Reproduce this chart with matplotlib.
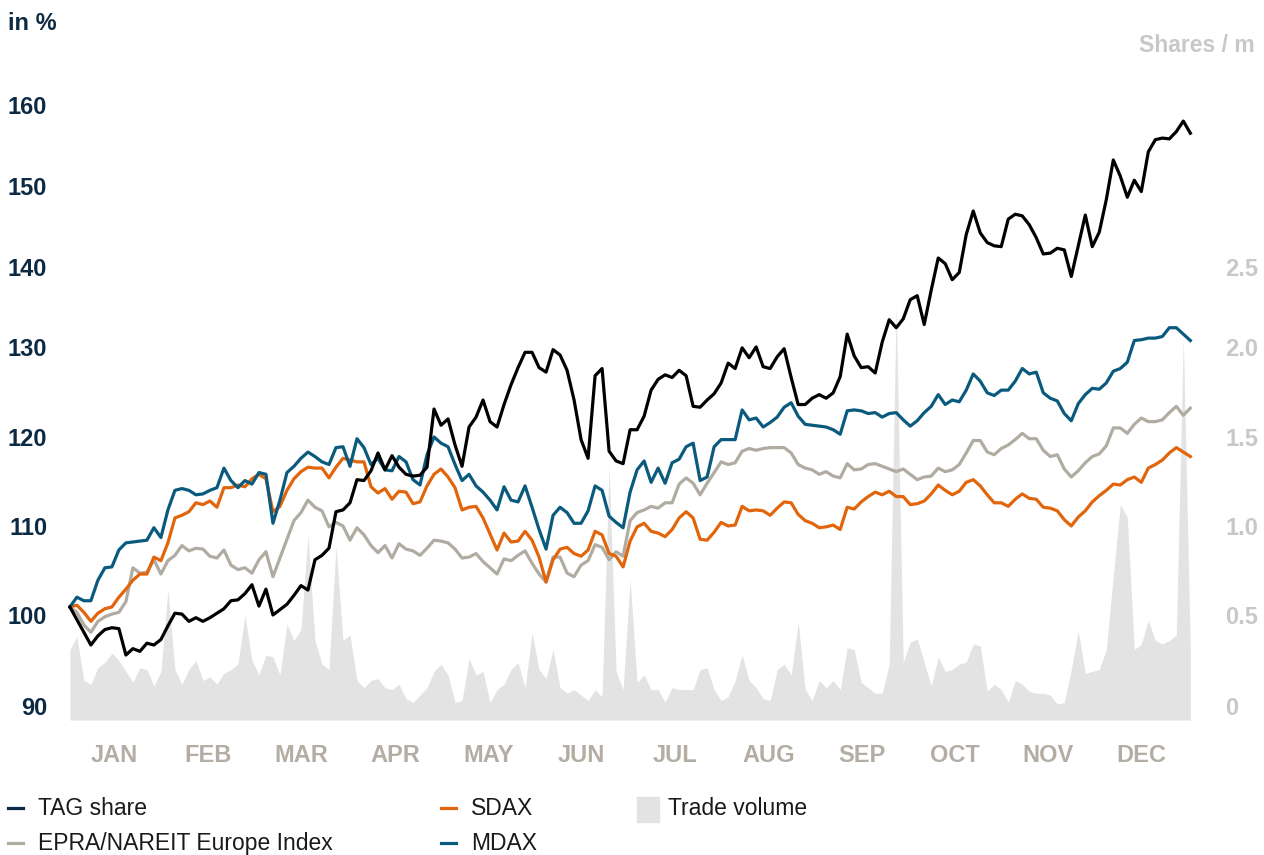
import numpy as np
import matplotlib
matplotlib.use("Agg")
import matplotlib.pyplot as plt
from matplotlib.lines import Line2D
from matplotlib.patches import Rectangle

plt.rcParams['font.family'] = ['Liberation Sans', 'DejaVu Sans']

# ---------------- data ----------------
months = ["JAN", "FEB", "MAR", "APR", "MAY", "JUN", "JUL", "AUG", "SEP", "OCT", "NOV", "DEC"]

tag_share = [
    100.9, 99.5, 98.1, 96.7, 97.7, 98.4, 98.6, 98.5, 95.6, 96.3,
    96.0, 96.9, 96.7, 97.3, 98.8, 100.2, 100.1, 99.3, 99.7, 99.3,
    99.7, 100.2, 100.7, 101.6, 101.7, 102.4, 103.4, 101.0, 102.9, 100.0,
    100.6, 101.2, 102.2, 103.3, 102.8, 106.2, 106.7, 107.5, 111.6, 111.8,
    112.6, 115.2, 115.1, 116.2, 118.2, 116.3, 117.9, 116.6, 115.8, 115.6,
    115.7, 116.6, 123.1, 121.3, 122.0, 119.1, 116.7, 121.1, 122.2, 124.1,
    121.7, 121.1, 123.6, 125.8, 127.7, 129.4, 129.4, 127.7, 127.2, 129.7,
    129.1, 127.4, 124.1, 119.7, 117.6, 126.8, 127.6, 118.4, 117.3, 117.0,
    120.8, 120.8, 122.3, 125.2, 126.4, 126.9, 126.6, 127.4, 126.8, 123.4,
    123.3, 124.1, 124.8, 126.0, 128.2, 127.6, 129.9, 128.8, 130.0, 127.8,
    127.6, 128.9, 129.8, 126.6, 123.6, 123.6, 124.3, 124.7, 124.3, 124.9,
    126.7, 131.6, 129.0, 127.7, 127.8, 127.1, 130.6, 133.4, 132.4, 133.5,
    135.9, 136.4, 132.8, 137.1, 141.1, 140.4, 138.4, 139.3, 144.0, 146.9,
    144.2, 143.0, 142.6, 142.5, 145.9, 146.5, 146.3, 145.2, 143.6, 141.6,
    141.7, 142.3, 142.1, 138.8, 142.6, 146.4, 142.5, 144.3, 148.3, 153.2,
    151.2, 148.6, 150.7, 149.3, 154.2, 155.7, 155.9, 155.8, 156.7, 158.0,
    156.5]

mdax = [
    100.9, 102.0, 101.6, 101.6, 103.9, 105.3, 105.4, 107.3, 108.1, 108.2,
    108.3, 108.4, 109.8, 108.7, 111.8, 114.0, 114.2, 114.0, 113.5, 113.6,
    114.0, 114.3, 116.5, 115.1, 114.3, 115.1, 114.7, 116.0, 115.8, 110.3,
    112.9, 116.0, 116.7, 117.6, 118.3, 117.8, 117.2, 116.9, 118.8, 118.9,
    116.7, 119.8, 118.8, 116.9, 117.6, 116.3, 116.2, 117.8, 117.2, 115.2,
    114.6, 118.0, 120.0, 119.3, 118.9, 116.9, 115.1, 115.8, 114.5, 113.8,
    112.9, 111.8, 114.4, 112.9, 112.7, 114.5, 112.1, 109.6, 107.4, 111.2,
    112.1, 111.5, 110.3, 110.3, 111.7, 114.5, 114.0, 111.1, 110.4, 109.8,
    113.8, 116.3, 117.3, 114.9, 116.5, 114.8, 117.1, 117.5, 118.9, 119.3,
    115.1, 115.5, 118.9, 119.7, 119.7, 119.7, 123.0, 121.9, 122.1, 121.1,
    121.6, 122.2, 123.3, 123.8, 122.3, 121.4, 121.3, 121.2, 121.1, 120.8,
    120.3, 122.9, 123.0, 122.9, 122.6, 122.7, 122.2, 122.6, 122.7, 121.9,
    121.2, 121.8, 122.7, 123.4, 124.7, 123.6, 124.1, 123.9, 125.2, 127.0,
    126.2, 124.9, 124.6, 125.2, 125.2, 126.2, 127.6, 127.0, 127.2, 124.9,
    124.3, 124.0, 122.6, 121.8, 123.7, 124.7, 125.4, 125.3, 126.0, 127.3,
    127.6, 128.3, 130.8, 130.9, 131.1, 131.1, 131.3, 132.4, 132.4, 131.6,
    130.8]

sdax = [
    100.9, 101.1, 100.3, 99.3, 100.2, 100.7, 100.9, 102.0, 102.9, 103.9,
    104.6, 104.6, 106.5, 106.1, 108.1, 110.9, 111.2, 111.6, 112.6, 112.4,
    112.8, 112.1, 114.3, 114.3, 114.6, 114.4, 115.3, 115.8, 115.3, 111.6,
    112.2, 114.0, 115.3, 116.1, 116.6, 116.5, 116.5, 115.4, 116.6, 117.6,
    117.4, 117.2, 117.2, 114.4, 113.7, 114.2, 113.0, 113.9, 113.8, 112.5,
    112.7, 114.5, 115.8, 116.4, 115.5, 114.3, 111.8, 112.1, 112.2, 110.9,
    109.1, 107.3, 109.2, 108.2, 108.3, 109.4, 108.4, 106.5, 103.7, 106.2,
    107.4, 107.6, 106.9, 106.6, 107.3, 109.4, 109.0, 106.9, 106.6, 105.4,
    108.3, 109.9, 110.3, 109.4, 109.2, 108.8, 109.6, 110.9, 111.6, 110.9,
    108.5, 108.4, 109.3, 110.4, 110.0, 110.1, 112.2, 111.7, 111.8, 111.7,
    111.2, 112.0, 112.7, 112.6, 111.3, 110.6, 110.3, 109.8, 109.9, 110.1,
    109.6, 112.1, 111.9, 112.7, 113.3, 113.8, 113.5, 113.9, 113.3, 113.3,
    112.4, 112.5, 112.8, 113.6, 114.6, 114.0, 113.5, 113.9, 114.9, 115.2,
    114.5, 113.5, 112.6, 112.6, 112.2, 113.0, 113.6, 113.1, 113.0, 112.1,
    112.0, 111.7, 110.7, 110.0, 111.0, 111.7, 112.7, 113.4, 114.0, 114.7,
    114.6, 115.2, 115.5, 114.9, 116.5, 116.9, 117.4, 118.2, 118.8, 118.3,
    117.8]

epra = [
    100.9, 100.3, 98.9, 98.1, 99.3, 99.8, 100.1, 100.3, 101.5, 105.3,
    104.7, 104.8, 106.2, 104.6, 106.1, 106.7, 107.8, 107.2, 107.5, 107.4,
    106.6, 106.4, 107.3, 105.6, 105.1, 105.3, 104.7, 106.2, 107.1, 104.3,
    106.4, 108.5, 110.6, 111.5, 112.9, 112.1, 111.7, 109.9, 110.4, 110.0,
    108.4, 109.8, 109.0, 107.8, 107.0, 107.8, 106.4, 108.0, 107.4, 107.2,
    106.7, 107.5, 108.4, 108.3, 108.1, 107.4, 106.4, 106.5, 106.9, 106.0,
    105.3, 104.6, 106.3, 106.1, 106.7, 107.2, 105.8, 104.6, 103.7, 106.5,
    106.5, 104.7, 104.3, 105.6, 106.1, 107.9, 107.6, 106.2, 107.1, 106.6,
    110.6, 111.5, 111.8, 112.2, 112.0, 112.6, 112.6, 114.7, 115.4, 114.8,
    113.5, 114.8, 116.0, 117.2, 116.9, 117.1, 118.4, 118.7, 118.5, 118.7,
    118.8, 118.8, 118.8, 118.2, 116.9, 116.5, 116.3, 115.8, 116.1, 115.6,
    115.4, 117.0, 116.3, 116.4, 116.9, 117.0, 116.7, 116.4, 116.1, 116.4,
    115.8, 115.2, 115.5, 115.6, 116.5, 116.1, 116.3, 116.9, 118.2, 119.6,
    119.6, 118.3, 118.0, 118.7, 119.1, 119.7, 120.4, 119.8, 119.8, 118.5,
    117.8, 118.0, 116.4, 115.5, 116.2, 117.1, 117.8, 118.1, 119.0, 121.0,
    121.0, 120.4, 121.4, 122.1, 121.7, 121.7, 121.9, 122.7, 123.4, 122.4,
    123.2]

trade_volume = [
    0.31, 0.38, 0.14, 0.12, 0.21, 0.24, 0.29, 0.25, 0.19, 0.13,
    0.21, 0.20, 0.11, 0.19, 0.64, 0.20, 0.12, 0.20, 0.25, 0.14,
    0.16, 0.12, 0.18, 0.20, 0.23, 0.50, 0.25, 0.17, 0.28, 0.27,
    0.17, 0.45, 0.36, 0.42, 0.95, 0.36, 0.23, 0.20, 0.89, 0.36,
    0.39, 0.14, 0.10, 0.14, 0.15, 0.10, 0.09, 0.12, 0.04, 0.02,
    0.06, 0.10, 0.19, 0.23, 0.17, 0.02, 0.03, 0.26, 0.17, 0.19,
    0.02, 0.09, 0.12, 0.20, 0.24, 0.10, 0.40, 0.20, 0.15, 0.31,
    0.10, 0.07, 0.09, 0.06, 0.03, 0.09, 0.05, 1.34, 0.19, 0.09,
    0.70, 0.13, 0.17, 0.09, 0.09, 0.02, 0.10, 0.09, 0.09, 0.09,
    0.20, 0.21, 0.09, 0.03, 0.05, 0.14, 0.28, 0.14, 0.10, 0.04,
    0.03, 0.20, 0.23, 0.17, 0.46, 0.09, 0.03, 0.14, 0.10, 0.14,
    0.09, 0.32, 0.31, 0.13, 0.10, 0.07, 0.07, 0.23, 2.26, 0.24,
    0.35, 0.37, 0.24, 0.11, 0.27, 0.19, 0.20, 0.23, 0.24, 0.34,
    0.33, 0.08, 0.12, 0.09, 0.02, 0.14, 0.12, 0.08, 0.07, 0.07,
    0.06, 0.01, 0.02, 0.20, 0.41, 0.18, 0.19, 0.20, 0.31, 0.72,
    1.12, 1.05, 0.31, 0.34, 0.47, 0.36, 0.34, 0.36, 0.39, 2.06,
    0.31]

left_ticks = [90, 100, 110, 120, 130, 140, 150, 160]
right_ticks = [0, 0.5, 1.0, 1.5, 2.0, 2.5]
right_labels = ["0", "0.5", "1.0", "1.5", "2.0", "2.5"]

# time axis in months (sampled trading days across the year)
x = np.linspace(0.02, 12.02, len(tag_share))

# ---------------- styling ----------------
C_TAG = "#000000"
C_TAG_LEG = "#0d2a44"
C_SDAX = "#e2650c"
C_MDAX = "#0a5a7e"
C_EPRA = "#b1aca2"
C_VOL = "#e3e3e3"
C_NAVY = "#0d2a44"
C_MONTH = "#b3ada3"
C_RGREY = "#c8c8c8"

W, H = 1264, 855
fig = plt.figure(figsize=(W / 100, H / 100), dpi=100)
ax = fig.add_axes([68 / W, (H - 720) / H, (1195 - 68) / W, 620 / H])
axv = ax.twinx()
ax.set_zorder(2)
ax.patch.set_visible(False)

# piecewise-linear value axis reproducing the reference's tick spacing
idx_knots = np.array([88.46, 90, 100, 110, 120, 130, 140, 150, 160, 170])
h_knots = np.array([0, 14, 105, 194, 283, 373, 453, 534, 615, 696], dtype=float)
vol_knots = (idx_knots - 90) / 20.0

def make_fns(k, h):
    return (lambda v: np.interp(v, k, h), lambda p: np.interp(p, h, k))

ax.set_yscale('function', functions=make_fns(idx_knots, h_knots))
axv.set_yscale('function', functions=make_fns(vol_knots, h_knots))
ax.set_ylim(88.46, 160.6)
axv.set_ylim(vol_knots[0], (160.6 - 90) / 20.0)
ax.set_xlim(0, 12.07)

# trade volume area
axv.fill_between(x, trade_volume, vol_knots[0], color=C_VOL, linewidth=0)

# index lines
lw = 2.3
ax.plot(x, epra, color=C_EPRA, lw=lw, solid_joinstyle='round')
ax.plot(x, sdax, color=C_SDAX, lw=lw, solid_joinstyle='round')
ax.plot(x, mdax, color=C_MDAX, lw=lw, solid_joinstyle='round')
ax.plot(x, tag_share, color=C_TAG, lw=lw, solid_joinstyle='round')

for a in (ax, axv):
    for s in a.spines.values():
        s.set_visible(False)

ax.set_yticks(left_ticks)
ax.set_yticklabels([str(t) for t in left_ticks], fontsize=17, fontweight='bold', color=C_NAVY)
ax.tick_params(axis='y', length=0, pad=15)

axv.set_yticks(right_ticks)
axv.set_yticklabels(right_labels, fontsize=17, fontweight='bold', color=C_RGREY)
axv.tick_params(axis='y', length=0, pad=22)

ax.set_xticks(np.arange(12) + 0.5)
ax.set_xticklabels(months, fontsize=17, fontweight='bold', color=C_MONTH)
ax.tick_params(axis='x', length=0, pad=17)

fig.text(8 / W, 1 - 23 / H, "in %", fontsize=17, fontweight='bold', color=C_NAVY, va='center', ha='left')
fig.text(1255 / W, 1 - 46 / H, "Shares / m", fontsize=16.5, fontweight='bold', color=C_RGREY, va='center', ha='right')

# legend (manual layout)
def leg_line(x0, y, color, label):
    fig.add_artist(Line2D([x0 / W, (x0 + 15) / W], [1 - y / H, 1 - y / H], color=color, lw=2.3,
                          transform=fig.transFigure))
    fig.text((x0 + 30) / W, 1 - y / H, label, fontsize=16.5, color="#1a1a1a", va='center', ha='left')

leg_line(8, 808, C_TAG_LEG, "TAG share")
leg_line(8, 843, C_EPRA, "EPRA/NAREIT Europe Index")
leg_line(441, 808, C_SDAX, "SDAX")
leg_line(441, 843, C_MDAX, "MDAX")
fig.add_artist(Rectangle((637 / W, 1 - 822 / H), 22 / W, 25 / H, color=C_VOL, transform=fig.transFigure))
fig.text(668 / W, 1 - 808 / H, "Trade volume", fontsize=16.5, color="#1a1a1a", va='center', ha='left')

fig.savefig("out.png", dpi=100)
